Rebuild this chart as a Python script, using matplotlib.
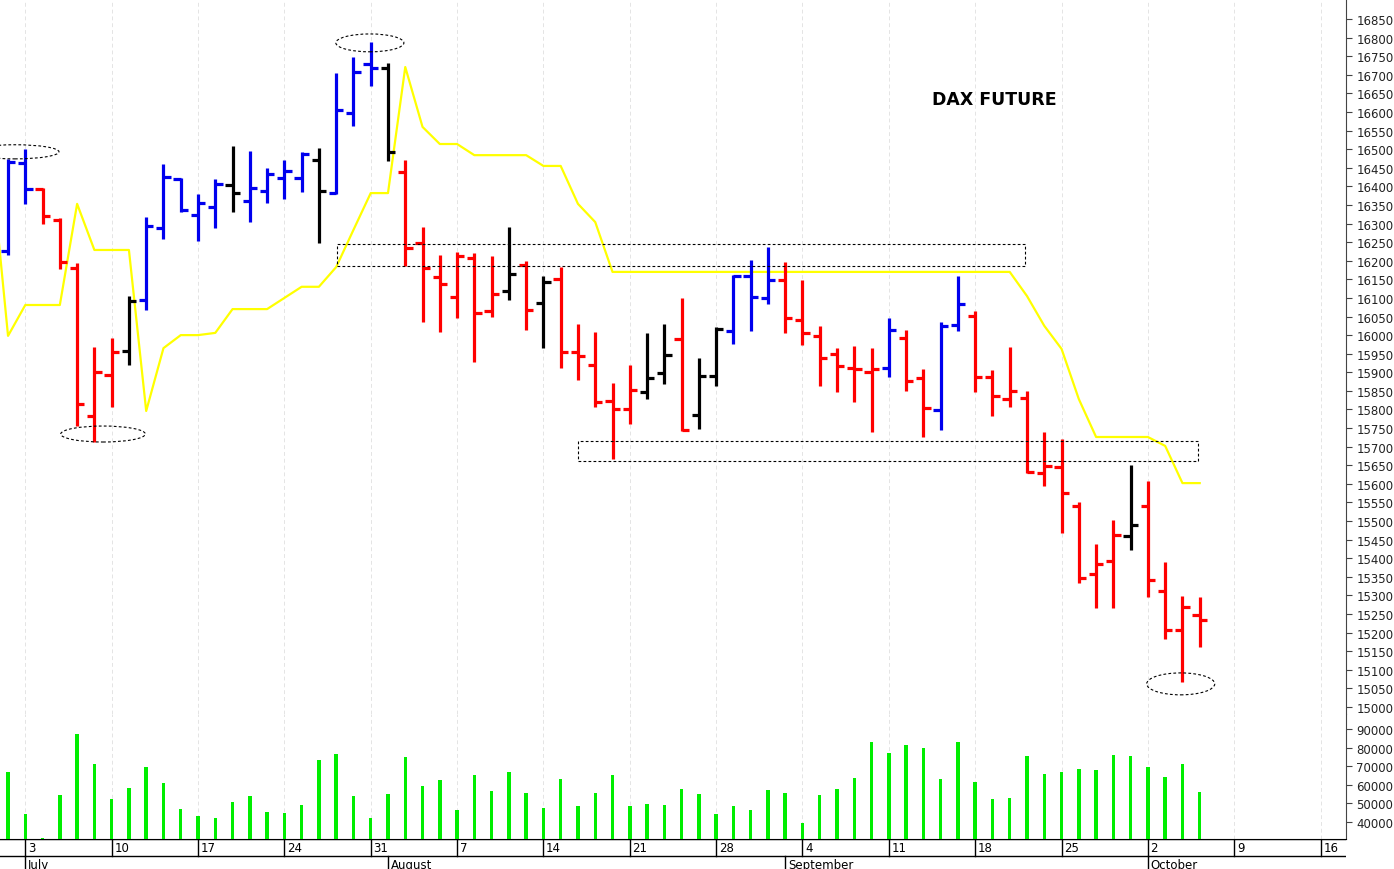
import matplotlib
matplotlib.use("Agg")
import matplotlib.pyplot as plt
from matplotlib.patches import Ellipse, Rectangle
import numpy as np

# trading-day index (0 = Mon 3 July); first bar is Fri 30 June
day_index = list(range(-1, 69))
high  = [16474,16501,16396,16315,16194,15968,15992,16105,16318,16460,16423,16380,16420,16509,16495,16449,16471,16493,16503,16705,
         16748,16788,16732,16471,16291,16216,16224,16221,16213,16291,16199,16159,16183,16030,16009,15871,15920,16006,16030,16100,
         15939,16022,16162,16202,16237,16197,16148,16025,15966,15971,15966,16046,16014,15909,16035,16159,16065,15906,15968,15850,
         15740,15721,15551,15438,15503,15651,15608,15390,15298,15296]
low   = [16216,16353,16299,16178,15756,15713,15807,15920,16068,16259,16331,16253,16288,16331,16304,16355,16366,16385,16248,16380,
         16562,16670,16468,16186,16035,16009,16046,15928,16049,16095,16014,15966,15912,15879,15807,15667,15761,15828,15869,15742,
         15748,15863,15976,16011,16084,16006,15974,15863,15847,15820,15740,15888,15850,15726,15745,16011,15847,15783,15807,15629,
         15594,15468,15334,15266,15266,15422,15296,15183,15067,15161]
open_ = [16226,16463,16393,16310,16181,15783,15893,15957,16095,16288,16420,16323,16345,16404,16361,16388,16423,16423,16471,16382,
         16597,16729,16718,16439,16248,16156,16103,16208,16065,16119,16189,16087,16151,15955,15920,15823,15801,15847,15898,15990,
         15785,15890,16011,16159,16100,16148,16041,15998,15949,15912,15901,15912,15992,15885,15799,16027,16052,15888,15828,15831,
         15629,15646,15541,15358,15393,15460,15541,15312,15207,15247]
close = [16466,16393,16320,16197,15815,15901,15955,16092,16294,16425,16337,16355,16407,16382,16396,16433,16441,16487,16388,16606,
         16708,16718,16493,16234,16181,16138,16213,16060,16111,16164,16068,16143,15955,15944,15820,15801,15853,15885,15947,15745,
         15890,16017,16159,16103,16148,16046,16006,15939,15917,15909,15909,16014,15877,15804,16025,16084,15888,15836,15850,15632,
         15648,15576,15347,15385,15463,15490,15342,15207,15269,15234]
bar_color = list("bbrrrrrkbbbbbkbbbbkbbbkrrrrrrkrkrrrrrkkrkkbbbrrrrrrbrrbbrrrrrrrrrkrrrr")
signal_index = list(range(-2, 69))
signal = [16474,
          15998,16081,16081,16081,16353,16229,16229,16229,15796,15965,16000,16000,16006,16070,16070,16070,16100,16130,16130,16183,
          16283,16382,16382,16721,16560,16514,16514,16484,16484,16484,16484,16455,16455,16353,16304,16170,16170,16170,16170,16170,
          16170,16170,16170,16170,16170,16170,16170,16170,16170,16170,16170,16170,16170,16170,16170,16170,16170,16170,16170,16105,
          16025,15963,15828,15726,15726,15726,15726,15702,15602,15602]
volume = [66900,44300,31500,54500,87300,71200,52400,58300,69600,61000,47000,43200,42200,50800,54000,45400,44800,49100,73300,76600,
          54000,42200,55100,74900,59400,62600,46500,65300,56700,66900,55600,47500,63100,48600,55600,65300,48600,49700,49100,57700,
          55100,44300,48600,46500,57200,55600,39500,54500,57700,63700,83000,77100,81400,79800,63100,83000,61500,52400,52900,75500,
          65800,66900,68500,68000,76000,75500,69600,64200,71200,56100]
week_labels = ["3","10","17","24","31","7","14","21","28","4","11","18","25","2","9","16"]
week_index  = [0,5,10,15,20,25,30,35,40,45,50,55,60,65,70,75]
month_labels = ["July","August","September","October"]
month_index  = [0,21,44,65]

colmap = {"b": "#0000ee", "r": "#ff0000", "k": "#000000"}
W, H = 1394, 870
fig = plt.figure(figsize=(W/100, H/100), dpi=100)
xl = (-1.465, 76.47)
axr = 1346/W
axp = fig.add_axes([0, 155/H, axr, 715/H])
axv = fig.add_axes([0, 30/H, axr, 125/H])
axd = fig.add_axes([0, 0, axr, 30/H])

for ax in (axp, axv):
    ax.set_xlim(*xl)
    for wi in week_index:
        ax.axvline(wi, color="#e4e4e4", lw=0.7, ls=(0, (4, 3)), zorder=0)
    ax.yaxis.tick_right()
    for s in ("left", "top", "bottom"):
        ax.spines[s].set_visible(False)
    ax.spines["right"].set_color("#444444")
    ax.tick_params(axis="y", labelsize=8.5, length=4, color="#444444", labelcolor="#222222")
    ax.set_xticks([])

# price bars
axp.set_ylim(14981, 16904)
axp.set_yticks(np.arange(15000, 16851, 50))
tk = 0.42
for x, h, l, o, c, cc in zip(day_index, high, low, open_, close, bar_color):
    col = colmap[cc]
    axp.plot([x, x], [l, h], color=col, lw=2.3, solid_capstyle="butt", zorder=3)
    axp.plot([x - tk, x], [o, o], color=col, lw=2.3, solid_capstyle="butt", zorder=3)
    axp.plot([x, x + tk], [c, c], color=col, lw=2.3, solid_capstyle="butt", zorder=3)
axp.plot(signal_index, signal, color="#ffff00", lw=1.6, zorder=2)

ls = (0, (2.5, 2))
for cx, cy, w, h in [(-0.6, 16493, 5.1, 38), (4.5, 15734, 4.9, 43), (19.95, 16786, 3.94, 48), (66.9, 15062, 3.94, 59)]:
    axp.add_patch(Ellipse((cx, cy), w, h, fill=False, ec="black", lw=0.8, ls=ls, zorder=4))
for x0, x1, y0, y1 in [(18.05, 57.9, 16186, 16246), (32.0, 67.9, 15661, 15715)]:
    axp.add_patch(Rectangle((x0, y0), x1 - x0, y1 - y0, fill=False, ec="black", lw=0.8, ls=ls, zorder=4))
axp.text(56.1, 16635, "DAX FUTURE", fontsize=12.5, fontweight="bold", ha="center", va="center")

# volume
axv.set_ylim(30860, 98060)
axv.set_yticks(np.arange(40000, 90001, 10000))
axv.bar(day_index, [v - 30860 for v in volume], bottom=30860, width=0.2, color="#00ee00", zorder=3)
axv.spines["bottom"].set_visible(True)
axv.spines["bottom"].set_color("black")

# date strip
axd.set_xlim(*xl)
axd.set_ylim(0, 30)
axd.axis("off")
axd.axhline(30, color="black", lw=1)
axd.axhline(13, color="black", lw=1)
for lab, wi in zip(week_labels, week_index):
    axd.plot([wi, wi], [13, 30], color="black", lw=1)
    axd.text(wi + 0.15, 21.5, lab, fontsize=8.5, va="center", ha="left")
for lab, mi in zip(month_labels, month_index):
    axd.plot([mi, mi], [0, 13], color="black", lw=1)
    axd.text(mi + 0.15, 4.5, lab, fontsize=8.5, va="center", ha="left")

fig.savefig("out.png", dpi=100)
